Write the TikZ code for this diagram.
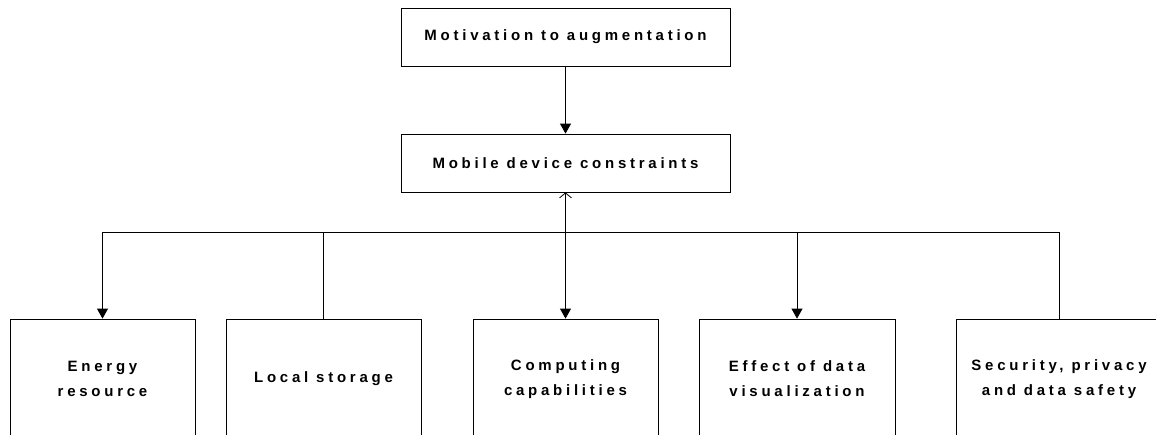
\documentclass[tikz,border=0pt]{standalone}
\usepackage{fontspec}
\newfontfamily\boxfont{Liberation Sans}[LetterSpace=25]
\usetikzlibrary{arrows.meta}

\begin{document}
\begin{tikzpicture}[x=1pt,y=-1pt,line cap=butt,line join=miter,
    font=\boxfont\bfseries\fontsize{15}{25}\selectfont,
    box/.style={draw,line width=0.8pt,align=center,inner sep=0pt},
    link/.style={line width=0.8pt},
    tri/.style={link,-{Triangle[width=11pt,length=10pt]}},
    barbtri/.style={link,{Straight Barb[width=12pt,length=5pt,line width=0.8pt]}-{Triangle[width=11pt,length=10pt]}}]
  \useasboundingbox (0,0) rectangle (1156,434);
  \clip (0,0) rectangle (1156,434);
  \node[box,minimum width=329pt,minimum height=58pt] (motiv) at (565.5,37) {Motivation to augmentation};
  \node[box,minimum width=329pt,minimum height=58pt] (constr) at (565.5,163) {Mobile device constraints};
  \node[box,minimum width=185pt,minimum height=120pt] (energy) at (102.5,379) {Energy\\resource};
  \node[box,minimum width=195pt,minimum height=120pt] (storage) at (323.5,379) {Local storage};
  \node[box,minimum width=185pt,minimum height=120pt] (computing) at (565.5,379) {Computing\\capabilities};
  \node[box,minimum width=196pt,minimum height=120pt] (visual) at (797,379) {Effect of data\\visualization};
  \node[box,minimum width=206pt,minimum height=120pt] (security) at (1059,379) {Security, privacy\\and data safety};
  \coordinate (bus) at (565.5,232);
  \draw[tri] (motiv) -- (constr);
  \draw[barbtri] (constr) -- (computing);
  \draw[tri] (bus) -| (energy);
  \draw[link] (bus) -| (storage);
  \draw[tri] (bus) -| (visual);
  \draw[link] (bus) -| (security);
\end{tikzpicture}
\end{document}
